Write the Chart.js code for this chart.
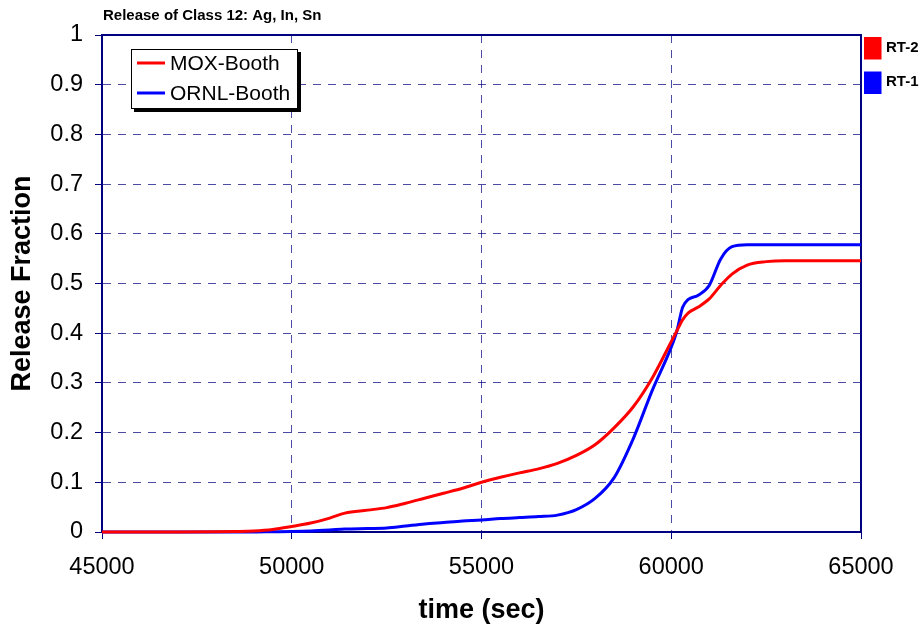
<!DOCTYPE html>
<html>
<head>
<meta charset="utf-8">
<script src="https://cdn.jsdelivr.net/npm/chart.js@4.4.0/dist/chart.umd.min.js"></script>
<style>
  body { margin: 0; background: #fff; }
  #wrap { width: 924px; height: 628px; }
</style>
</head>
<body>
<div id="wrap"><canvas id="chart" width="924" height="628"></canvas></div>
<script>
// Release of Class 12
const chartTitle = 'Release of Class 12: Ag, In, Sn';
const seriesNames = ['MOX-Booth', 'ORNL-Booth'];
const seriesColors = ['#FF0000', '#0000FF'];
const caseNames = ['RT-2', 'RT-1'];

const times = [45000, 47000, 48000, 48500, 49000, 49500, 50000, 50500, 51000, 51400,
    52000, 52500, 53000, 53500, 54000, 54500, 55000, 55500, 56000, 56500,
    57000, 57500, 58000, 58500, 59000, 59500, 60000, 60150, 60300, 60450,
    60700, 61000, 61300, 61600, 62000, 62500, 63000, 64000, 65000];

const moxBooth = [0, 0, 0.0005, 0.001, 0.002, 0.005, 0.011, 0.018, 0.028, 0.038,
    0.044, 0.049, 0.058, 0.068, 0.078, 0.088, 0.1, 0.11, 0.119, 0.127,
    0.138, 0.154, 0.176, 0.21, 0.252, 0.31, 0.383, 0.405, 0.427, 0.441,
    0.452, 0.469, 0.496, 0.519, 0.537, 0.544, 0.546, 0.546, 0.546];

const ornlBooth = [0, 0, 0, 0, 0, 0.0005, 0.001, 0.002, 0.004, 0.006,
    0.007, 0.008, 0.012, 0.016, 0.019, 0.022, 0.024, 0.027, 0.029, 0.031,
    0.034, 0.045, 0.068, 0.11, 0.188, 0.285, 0.372, 0.405, 0.452, 0.468,
    0.476, 0.496, 0.549, 0.574, 0.578, 0.578, 0.578, 0.578, 0.578];

const xTicks = [45000, 50000, 55000, 60000, 65000];
const yTicks = [0, 0.1, 0.2, 0.3, 0.4, 0.5, 0.6, 0.7, 0.8, 0.9, 1];
const yTickLabels = ['0', '0.1', '0.2', '0.3', '0.4', '0.5', '0.6', '0.7', '0.8', '0.9', '1'];

const FONT = "'Liberation Sans', Arial, sans-serif";
const NAVY = '#000080';

function toPoints(values) {
    return times.map((t, i) => ({ x: t, y: values[i] }));
}

// frame, title, legend box and case keys
const decorations = {
    id: 'decorations',
    beforeDatasetsDraw(chart) {
        let ctx = chart.ctx;
        let a = chart.chartArea;
        ctx.save();
        ctx.strokeStyle = NAVY;
        ctx.lineWidth = 2;
        ctx.strokeRect(a.left, a.top, a.right - a.left, a.bottom - a.top);
        ctx.restore();
    },
    afterDraw(chart) {
        let ctx = chart.ctx;
        ctx.save();

        // title
        ctx.fillStyle = '#000';
        ctx.font = 'bold 15px ' + FONT;
        ctx.textBaseline = 'middle';
        ctx.textAlign = 'left';
        ctx.fillText(chartTitle, 103, 16);

        // legend box with shadow
        ctx.fillStyle = '#000';
        ctx.fillRect(134, 52, 167, 60);
        ctx.fillStyle = '#fff';
        ctx.fillRect(131, 49, 166, 59);
        ctx.strokeStyle = '#000';
        ctx.lineWidth = 1;
        ctx.strokeRect(131.5, 49.5, 166, 59);

        chart.data.datasets.forEach((ds, i) => {
            let y = 63 + i * 30;
            ctx.strokeStyle = ds.borderColor;
            ctx.lineWidth = 3;
            ctx.beginPath();
            ctx.moveTo(137, y);
            ctx.lineTo(165, y);
            ctx.stroke();
            ctx.fillStyle = '#000';
            ctx.font = '21px ' + FONT;
            ctx.fillText(ds.label, 170, y + 1);
        });

        // case keys on the right
        caseNames.forEach((name, i) => {
            let y = 37 + i * 34.5;
            ctx.fillStyle = seriesColors[i];
            ctx.fillRect(864, y, 17.5, 22.5);
            ctx.fillStyle = '#000';
            ctx.font = 'bold 15px ' + FONT;
            ctx.fillText(name, 886, y + 10.5);
        });

        ctx.restore();
    }
};

let ctx = document.getElementById('chart').getContext('2d');
new Chart(ctx, {
    type: 'line',
    data: {
        datasets: [
            {
                label: seriesNames[0],
                data: toPoints(moxBooth),
                borderColor: seriesColors[0],
                borderWidth: 3,
                pointRadius: 0,
                cubicInterpolationMode: 'monotone',
                clip: false
            },
            {
                label: seriesNames[1],
                data: toPoints(ornlBooth),
                borderColor: seriesColors[1],
                borderWidth: 3,
                pointRadius: 0,
                cubicInterpolationMode: 'monotone',
                clip: false
            }
        ]
    },
    options: {
        responsive: false,
        animation: false,
        layout: { padding: { top: 35, right: 63, left: 0, bottom: 0 } },
        plugins: {
            legend: { display: false },
            tooltip: { enabled: false }
        },
        scales: {
            x: {
                type: 'linear',
                min: 45000,
                max: 65000,
                afterBuildTicks: (scale) => { scale.ticks = xTicks.map(v => ({ value: v })); },
                afterFit: (scale) => { scale.height = 96; },
                ticks: {
                    color: '#000',
                    font: { family: FONT, size: 23.5 },
                    padding: 14,
                    maxRotation: 0,
                    callback: (v) => String(v)
                },
                grid: { color: 'rgba(0,0,128,0.7)', lineWidth: 1, tickLength: 7, tickColor: NAVY, tickBorderDash: [] },
                border: { color: NAVY, width: 2, dash: [8, 7] },
                title: {
                    display: true,
                    text: 'time (sec)',
                    color: '#000',
                    font: { family: FONT, size: 27, weight: 'bold' },
                    padding: { top: 0, bottom: 1 }
                }
            },
            y: {
                min: 0,
                max: 1,
                afterBuildTicks: (scale) => { scale.ticks = yTicks.map(v => ({ value: v })); },
                afterFit: (scale) => { scale.width = 102; },
                ticks: {
                    color: '#000',
                    font: { family: FONT, size: 23.5 },
                    padding: 12,
                    callback: (v, i) => yTickLabels[i]
                },
                grid: { color: 'rgba(0,0,128,0.7)', lineWidth: 1, tickLength: 7, tickColor: NAVY, tickBorderDash: [] },
                border: { color: NAVY, width: 2, dash: [8, 7] },
                title: {
                    display: true,
                    text: 'Release Fraction',
                    color: '#000',
                    font: { family: FONT, size: 27, weight: 'bold' },
                    padding: { top: 6, bottom: 0 }
                }
            }
        }
    },
    plugins: [decorations]
});
</script>
</body>
</html>
